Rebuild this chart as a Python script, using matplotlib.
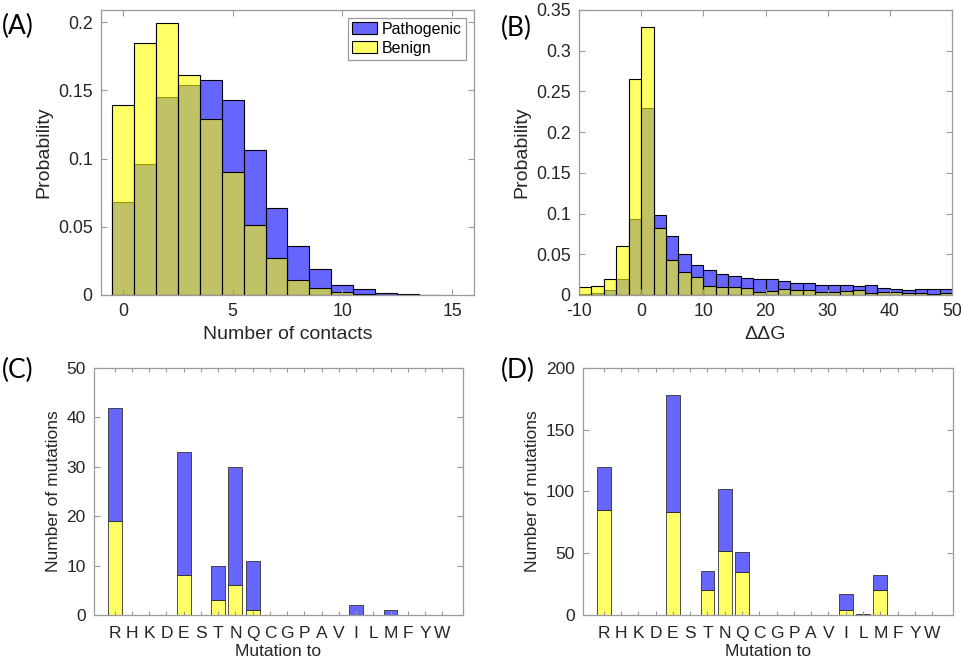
#!/usr/bin/env python3
"""
Contact number / ddG histograms and mutation-target counts, pathogenic vs benign.
"""
import numpy as np
import matplotlib
matplotlib.use('Agg')
import matplotlib.pyplot as plt
from matplotlib.patches import Patch
from matplotlib.ticker import FormatStrFormatter

plt.rcParams['font.family'] = ['Liberation Sans', 'DejaVu Sans']
plt.rcParams['axes.unicode_minus'] = False

# (A) number of contacts, probability per bin (bin centres 0..14)
contact_bins = [0, 1, 2, 3, 4, 5, 6, 7, 8, 9, 10, 11, 12, 13, 14]
contact_path = [0.068, 0.096, 0.145, 0.154, 0.158, 0.143, 0.106, 0.064,
                0.036, 0.019, 0.0076, 0.0042, 0.0013, 0.0008, 0.0002]
contact_benign = [0.139, 0.185, 0.1995, 0.161, 0.129, 0.090, 0.051, 0.0274,
                  0.011, 0.0054, 0.0024, 0.001, 0.0, 0.0, 0.0]

# (B) ddG, probability per 2-unit bin (left edges -10..48)
ddg_left = [-10, -8, -6, -4, -2, 0, 2, 4, 6, 8, 10, 12, 14, 16, 18, 20, 22, 24,
            26, 28, 30, 32, 34, 36, 38, 40, 42, 44, 46, 48]
ddg_path = [0.001, 0.002, 0.006, 0.020, 0.093, 0.230, 0.098, 0.072, 0.050,
            0.037, 0.031, 0.026, 0.023, 0.021, 0.020, 0.019, 0.017, 0.015,
            0.015, 0.012, 0.012, 0.012, 0.011, 0.012, 0.009, 0.0074, 0.006,
            0.007, 0.0074, 0.007]
ddg_benign = [0.0094, 0.011, 0.019, 0.060, 0.265, 0.3295, 0.0827, 0.043,
              0.0287, 0.0225, 0.0115, 0.0094, 0.0094, 0.008, 0.0037, 0.005,
              0.007, 0.0065, 0.006, 0.004, 0.004, 0.0045, 0.006, 0.003, 0.004,
              0.004, 0.0025, 0.002, 0.0015, 0.002]

# (C), (D) counts of mutations by target residue
residues = ['R', 'H', 'K', 'D', 'E', 'S', 'T', 'N', 'Q', 'C',
            'G', 'P', 'A', 'V', 'I', 'L', 'M', 'F', 'Y', 'W']
c_benign = [19, 0, 0, 0, 8, 0, 3, 6, 1, 0, 0, 0, 0, 0, 0, 0, 0, 0, 0, 0]
c_path = [23, 0, 0, 0, 25, 0, 7, 24, 10, 0, 0, 0, 0, 0, 2, 0, 1, 0, 0, 0]
d_benign = [85, 0, 0, 0, 83, 0, 20, 52, 35, 0, 0, 0, 0, 0, 4, 1, 20, 0, 0, 0]
d_path = [35, 0, 0, 0, 95, 0, 16, 50, 16, 0, 0, 0, 0, 0, 13, 0, 12, 0, 0, 0]

BLUE = (0, 0, 1, 0.6)
YELLOW = (1, 1, 0, 0.6)
AXCOL = '#9a9a9a'
TXTCOL = '#262626'


def style_axes(ax, fs):
    for s in ax.spines.values():
        s.set_color(AXCOL)
        s.set_linewidth(0.9)
    ax.tick_params(direction='in', top=True, right=True, length=4,
                   color=AXCOL, labelcolor=TXTCOL, labelsize=fs, pad=6)


fig = plt.figure(figsize=(9.62, 6.59), dpi=100)

# (A)
FS_TOP = 14
FS_TICK_TOP = 12.8
axA = fig.add_axes([0.105, 0.5524, 0.3877, 0.4325])
axA.bar(contact_bins, contact_path, width=1.0, facecolor=BLUE,
        edgecolor='k', linewidth=0.8)
axA.bar(contact_bins, contact_benign, width=1.0, facecolor=YELLOW,
        edgecolor='k', linewidth=0.8)
axA.set_xlim(-1, 16)
axA.set_ylim(0, 0.209)
axA.set_xticks([0, 5, 10, 15])
axA.set_yticks([0, 0.05, 0.1, 0.15, 0.2])
axA.yaxis.set_major_formatter(FormatStrFormatter('%g'))
axA.set_xlabel('Number of contacts', fontsize=FS_TOP, color=TXTCOL, labelpad=4)
axA.set_ylabel('Probability', fontsize=FS_TOP, color=TXTCOL, labelpad=4)
style_axes(axA, FS_TICK_TOP)
leg = axA.legend(handles=[Patch(facecolor=BLUE, edgecolor='k', linewidth=0.8, label='Pathogenic'),
                          Patch(facecolor=YELLOW, edgecolor='k', linewidth=0.8, label='Benign')],
                 loc='upper right', fontsize=11.5, fancybox=False, framealpha=1,
                 borderpad=0.25, handlelength=1.6, handleheight=0.8,
                 handletextpad=0.3, labelspacing=0.25, borderaxespad=0.5)
leg.get_frame().set_edgecolor(AXCOL)
leg.get_frame().set_linewidth(0.9)

# (B)
axB = fig.add_axes([0.6019, 0.5524, 0.3877, 0.4325])
axB.bar(ddg_left, ddg_path, width=2.0, align='edge', facecolor=BLUE,
        edgecolor='k', linewidth=0.8)
axB.bar(ddg_left, ddg_benign, width=2.0, align='edge', facecolor=YELLOW,
        edgecolor='k', linewidth=0.8)
axB.set_xlim(-10, 50)
axB.set_ylim(0, 0.35)
axB.set_xticks([-10, 0, 10, 20, 30, 40, 50])
axB.set_yticks(np.arange(0, 0.351, 0.05))
axB.yaxis.set_major_formatter(FormatStrFormatter('%g'))
axB.set_xlabel('\u0394\u0394G', fontsize=FS_TOP, color=TXTCOL, labelpad=4)
axB.set_ylabel('Probability', fontsize=FS_TOP, color=TXTCOL, labelpad=4)
style_axes(axB, FS_TICK_TOP)

# (C) and (D)
FS_BOT = 12.5


def stacked(ax, benign, path, ymax, yticks):
    x = np.arange(1, len(residues) + 1)
    ax.bar(x, benign, width=0.8, facecolor=YELLOW, edgecolor='#303030', linewidth=0.6)
    ax.bar(x, path, width=0.8, bottom=benign, facecolor=BLUE,
           edgecolor='#303030', linewidth=0.6)
    ax.set_xlim(-0.2, 21.2)
    ax.set_ylim(0, ymax)
    ax.set_xticks(x)
    ax.set_xticklabels(residues)
    ax.set_yticks(yticks)
    ax.set_xlabel('Mutation to', fontsize=FS_BOT, color=TXTCOL, labelpad=2)
    ax.set_ylabel('Number of mutations', fontsize=FS_BOT, color=TXTCOL, labelpad=4)
    style_axes(ax, FS_BOT)
    ax.tick_params(axis='x', length=3, pad=8)


axC = fig.add_axes([0.0977, 0.0668, 0.3836, 0.3748])
stacked(axC, c_benign, c_path, 50, [0, 10, 20, 30, 40, 50])
axD = fig.add_axes([0.606, 0.0668, 0.3846, 0.3748])
stacked(axD, d_benign, d_path, 200, [0, 50, 100, 150, 200])

# panel letters
for lab, (px, py) in zip(['(A)', '(B)', '(C)', '(D)'],
                         [(2, 26), (501, 28), (2, 370), (501, 370)]):
    fig.text(px / 962, 1 - py / 659, lab, fontsize=19, family=['Lato', 'DejaVu Sans'],
             ha='left', va='center', color='black')

fig.savefig('out.png', dpi=100)
